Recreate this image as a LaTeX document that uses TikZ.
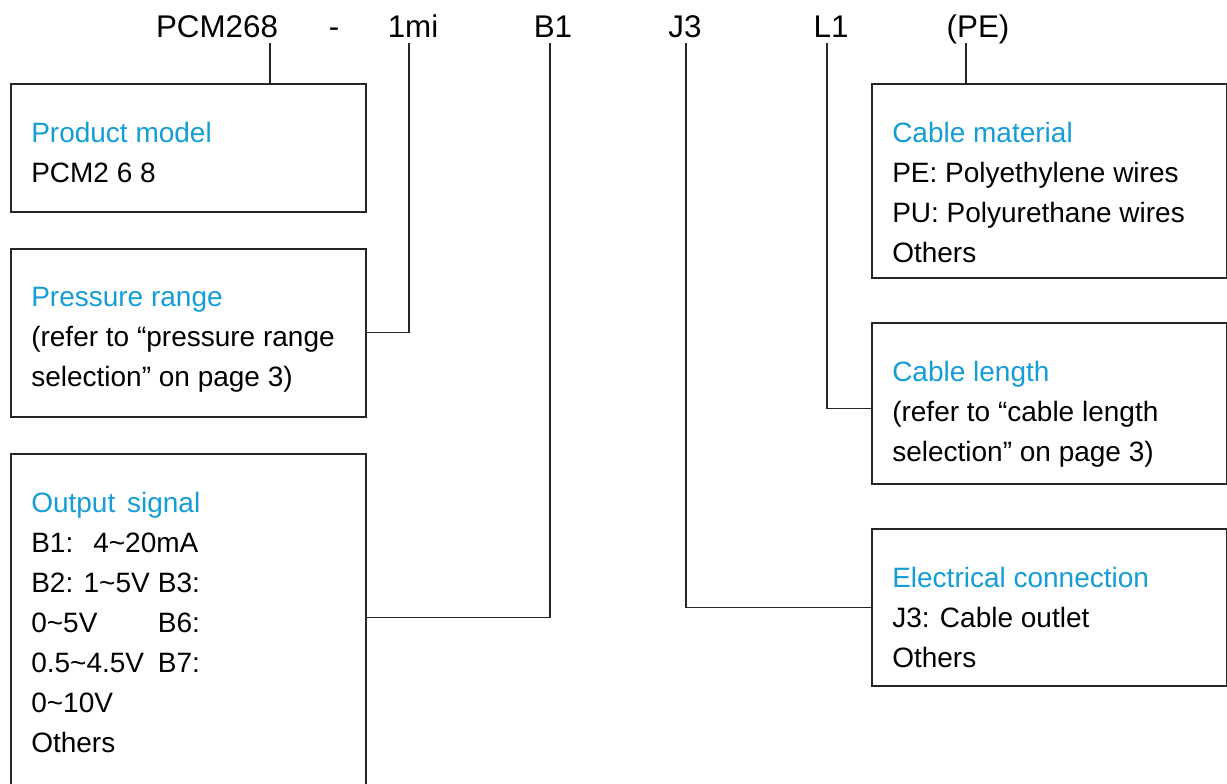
\documentclass[tikz,border=0pt]{standalone}
\usepackage{fontspec}
\setmainfont{Liberation Sans}
\usepackage{tikz}
\usetikzlibrary{positioning}

\definecolor{titleblue}{RGB}{20,157,214}
\newcommand{\opttitle}[1]{\textcolor{titleblue}{#1}}

\tikzset{
    code/.style={font=\fontsize{23.5pt}{28pt}\selectfont, anchor=base, inner sep=0pt},
    optbox/.style={draw=black!85, line width=1.2pt, anchor=north west, inner sep=0pt, minimum width=266.25pt},
    optinfo/.style={align=left, inner sep=0pt, font=\fontsize{21pt}{30pt}\selectfont},
    link/.style={draw=black!85, line width=0.9pt}
}

\begin{document}
\begin{tikzpicture}[x=0.75pt,y=-0.75pt]
    \useasboundingbox (0,0) rectangle (1227,783);

    % order code
    \node [code] (pcm)      at (217,37) {PCM268};
    \node [code] (dash)     at (334,37) {-};
    \node [code] (range-c)  at (413,37) {1mi};
    \node [code] (signal-c) at (553,37) {B1};
    \node [code] (outlet-c) at (685,37) {J3};
    \node [code] (length-c) at (831,37) {L1};
    \node [code] (mat-c)    at (978,37) {(PE)};

    % left column
    \node [optbox, minimum height=96pt]     (model)  at (10,83)  {};
    \node [optbox, minimum height=126pt]    (range)  at (10,248) {};
    \node [optbox, minimum height=249.75pt] (signal) at (10,453) {};

    \node [optinfo, below right=29.25pt and 15.75pt of model.north west] (model-txt)
        {\opttitle{Product model}\\PCM2 6 8};
    \node [optinfo, below right=29.25pt and 15.75pt of range.north west] (range-txt)
        {\opttitle{Pressure range}\\(refer to “pressure range\\selection” on page 3)};
    \node [optinfo, below right=29.25pt and 15.75pt of signal.north west] (signal-txt)
        {\opttitle{Output\hspace{3pt} signal}\\
         B1:\hspace{15pt}4\textasciitilde20mA\\
         \makebox[95pt][l]{B2: 1\textasciitilde5V}B3:\\
         \makebox[95pt][l]{0\textasciitilde5V}B6:\\
         \makebox[95pt][l]{0.5\textasciitilde4.5V}B7:\\
         0\textasciitilde10V\\
         Others};

    % right column
    \node [optbox, minimum height=145.5pt]  (material) at (871,83)  {};
    \node [optbox, minimum height=120.75pt] (length)   at (871,322) {};
    \node [optbox, minimum height=117.75pt] (outlet)   at (871,528) {};

    \node [optinfo, below right=29.25pt and 15.75pt of material.north west] (material-txt)
        {\opttitle{Cable material}\\PE: Polyethylene wires\\PU: Polyurethane wires\\Others};
    \node [optinfo, below right=29.25pt and 15.75pt of length.north west] (length-txt)
        {\opttitle{Cable length}\\(refer to “cable length\\selection” on page 3)};
    \node [optinfo, below right=29.25pt and 15.75pt of outlet.north west] (outlet-txt)
        {\opttitle{Electrical connection}\\J3: Cable outlet\\Others};

    % leaders
    \coordinate (pcm-tap)    at (270,43);
    \coordinate (range-tap)  at (409,43);
    \coordinate (signal-tap) at (550,43);
    \coordinate (outlet-tap) at (686,43);
    \coordinate (length-tap) at (827,43);
    \coordinate (mat-tap)    at (966,43);

    \draw [link] (pcm-tap) -- (pcm-tap |- model.north);
    \draw [link] (range-tap) |- (range.east);
    \draw [link] (signal-tap) |- ([yshift=1.9pt]signal.east);
    \draw [link] (outlet-tap) |- (outlet.west);
    \draw [link] (length-tap) |- ([yshift=-4pt]length.west);
    \draw [link] (mat-tap) -- (mat-tap |- material.north);
\end{tikzpicture}
\end{document}
